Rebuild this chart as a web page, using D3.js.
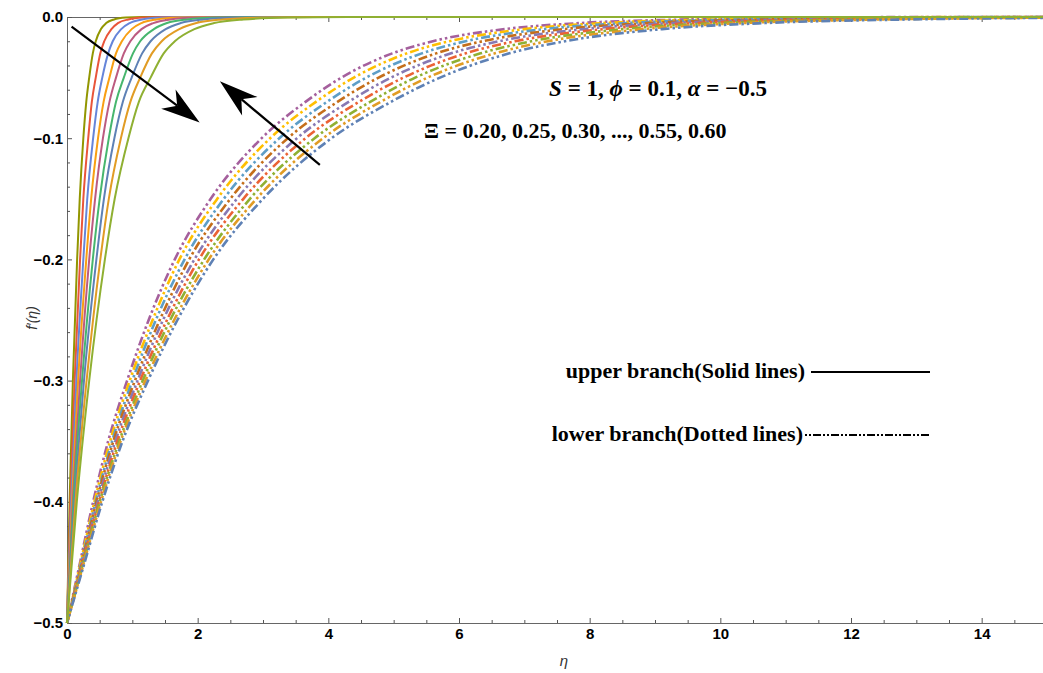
<!DOCTYPE html>
<html>
<head>
<meta charset="utf-8">
<script src="https://cdn.jsdelivr.net/npm/d3@7"></script>
<style>
body { margin: 0; background: #fff; }
svg { display: block; }
.note { font-family: "Liberation Serif", "Times New Roman", serif; font-weight: bold; font-size: 22px; fill: #000; }
</style>
</head>
<body>
<script>
// values

var xMajor = [0, 2, 4, 6, 8, 10, 12, 14];
var xMinor = [0.5, 1, 1.5, 2.5, 3, 3.5, 4.5, 5, 5.5, 6.5, 7, 7.5, 8.5, 9, 9.5, 10.5, 11, 11.5, 12.5, 13, 13.5, 14.5];
var yMajor = [0, -0.1, -0.2, -0.3, -0.4, -0.5];
var yMinor = [-0.02, -0.04, -0.06, -0.08, -0.12, -0.14, -0.16, -0.18, -0.22, -0.24, -0.26, -0.28,
              -0.32, -0.34, -0.36, -0.38, -0.42, -0.44, -0.46, -0.48];

// upper branch: eta where each curve crosses these f' levels
var solidLevels = [-0.5, -0.4, -0.3, -0.2, -0.15, -0.1, -0.07, -0.05, -0.03, -0.02, -0.01, -0.005, -0.002, -0.0005, 0];
var solidEta = [
  [0, 0.04, 0.09, 0.155, 0.195, 0.25, 0.295, 0.34, 0.395, 0.44, 0.52, 0.6, 0.72, 0.9, 1.15],
  [0, 0.052, 0.117, 0.2, 0.25, 0.325, 0.38, 0.44, 0.51, 0.57, 0.68, 0.78, 0.94, 1.17, 1.5],
  [0, 0.064, 0.144, 0.25, 0.31, 0.4, 0.47, 0.54, 0.63, 0.7, 0.83, 0.96, 1.15, 1.44, 1.84],
  [0, 0.076, 0.17, 0.295, 0.37, 0.475, 0.56, 0.65, 0.75, 0.84, 0.99, 1.14, 1.37, 1.71, 2.19],
  [0, 0.088, 0.2, 0.34, 0.43, 0.55, 0.65, 0.75, 0.87, 0.97, 1.14, 1.32, 1.58, 1.98, 2.53],
  [0, 0.1, 0.23, 0.395, 0.5, 0.64, 0.75, 0.87, 1.01, 1.12, 1.33, 1.53, 1.84, 2.3, 2.93],
  [0, 0.116, 0.26, 0.45, 0.565, 0.725, 0.855, 0.99, 1.15, 1.28, 1.51, 1.74, 2.09, 2.61, 3.34],
  [0, 0.13, 0.3, 0.51, 0.64, 0.825, 0.97, 1.12, 1.3, 1.45, 1.72, 1.98, 2.38, 2.97, 3.8],
  [0, 0.15, 0.34, 0.58, 0.73, 0.94, 1.1, 1.28, 1.48, 1.65, 1.95, 2.25, 2.7, 3.38, 4.3]
];
var solidColors = ["#929600", "#e9553a", "#6685d9", "#f89f13", "#bc5b80", "#47b66d", "#5e81b5", "#e19c24", "#8fb032"];

// lower branch
var dashLevels = [-0.5, -0.45, -0.4, -0.35, -0.3, -0.25, -0.2, -0.15, -0.1, -0.07, -0.05, -0.03, -0.02, -0.01, -0.005, -0.002, -0.0005, 0];
var dashEta = [
  [0, 0.2, 0.4, 0.63, 0.92, 1.25, 1.65, 2.2, 2.98, 3.65, 4.2, 4.98, 5.6, 6.7, 7.85, 9.5, 11.5, 13.5],
  [0, 0.21, 0.42, 0.66, 0.96, 1.31, 1.72, 2.3, 3.11, 3.81, 4.39, 5.2, 5.85, 7.0, 8.2, 9.93, 12.02, 14.11],
  [0, 0.22, 0.44, 0.69, 1.0, 1.36, 1.8, 2.4, 3.25, 3.98, 4.58, 5.43, 6.1, 7.3, 8.56, 10.36, 12.54, 14.72],
  [0, 0.23, 0.45, 0.71, 1.04, 1.42, 1.87, 2.5, 3.38, 4.14, 4.77, 5.65, 6.36, 7.6, 8.91, 10.78, 13.05, 15.32],
  [0, 0.24, 0.47, 0.74, 1.08, 1.47, 1.95, 2.6, 3.52, 4.31, 4.96, 5.88, 6.61, 7.91, 9.26, 11.21, 13.57, 15.93],
  [0, 0.24, 0.49, 0.77, 1.12, 1.53, 2.02, 2.7, 3.65, 4.47, 5.15, 6.1, 6.86, 8.21, 9.62, 11.64, 14.09, 16.54],
  [0, 0.25, 0.5, 0.8, 1.16, 1.58, 2.1, 2.8, 3.79, 4.64, 5.33, 6.33, 7.11, 8.51, 9.97, 12.07, 14.61, 17.15],
  [0, 0.26, 0.52, 0.82, 1.2, 1.64, 2.17, 2.9, 3.92, 4.8, 5.52, 6.55, 7.36, 8.81, 10.33, 12.5, 15.12, 17.75],
  [0, 0.27, 0.54, 0.85, 1.24, 1.69, 2.24, 3.0, 4.05, 4.96, 5.71, 6.77, 7.62, 9.11, 10.68, 12.92, 15.64, 18.36]
];
var dashColors = ["#a5609d", "#ffbf00", "#5d9ec7", "#c56e1a", "#8778b3", "#eb6235", "#8fb032", "#e19c24", "#5e81b5"];

// arrows, in data units [eta, f']
var arrows = [
  [[0.07, -0.008], [2.03, -0.087]],
  [[3.87, -0.122], [2.34, -0.053]]
];

var W = 1043, H = 673;

var x = d3.scaleLinear().domain([0, 15]).range([67, 1047]);
var y = d3.scaleLinear().domain([-0.5, 0]).range([623, 17]);

var svg = d3.select("body").append("svg")
  .attr("width", W)
  .attr("height", H);

svg.append("clipPath").attr("id", "plot")
  .append("rect")
  .attr("x", x(0) - 2).attr("y", y(0) - 3)
  .attr("width", W - x(0) + 2).attr("height", y(-0.5) - y(0) + 5);

var tickFont = '"Liberation Sans Narrow", "Arial Narrow", "Liberation Sans", Arial, sans-serif';
var fmt = function (d) { return d === 0 ? "0.0" : d3.format(".1f")(d); };

var styleAxis = function (g) {
  g.attr("font-family", tickFont).attr("font-size", 15).attr("font-weight", "bold");
  g.selectAll(".tick line").attr("stroke", "#555");
  g.selectAll(".tick text").attr("fill", "#000");
  g.select(".domain").attr("stroke", "#666");
};

// frame + ticks
svg.append("g").attr("transform", "translate(0," + y(-0.5) + ")")
  .call(d3.axisBottom(x).tickValues(xMajor).tickFormat(d3.format("d")).tickSizeInner(-5).tickSizeOuter(0).tickPadding(5))
  .call(styleAxis);
svg.append("g").attr("transform", "translate(0," + y(-0.5) + ")")
  .call(d3.axisBottom(x).tickValues(xMinor).tickFormat("").tickSizeInner(-3).tickSizeOuter(0))
  .call(styleAxis);
svg.append("g").attr("transform", "translate(0," + y(0) + ")")
  .call(d3.axisTop(x).tickValues(xMajor).tickFormat("").tickSizeInner(-5).tickSizeOuter(0))
  .call(styleAxis);
svg.append("g").attr("transform", "translate(0," + y(0) + ")")
  .call(d3.axisTop(x).tickValues(xMinor).tickFormat("").tickSizeInner(-3).tickSizeOuter(0))
  .call(styleAxis);
svg.append("g").attr("transform", "translate(" + x(0) + ",0)")
  .call(d3.axisLeft(y).tickValues(yMajor).tickFormat(fmt).tickSizeInner(-5).tickSizeOuter(0).tickPadding(4))
  .call(styleAxis);
svg.append("g").attr("transform", "translate(" + x(0) + ",0)")
  .call(d3.axisLeft(y).tickValues(yMinor).tickFormat("").tickSizeInner(-3).tickSizeOuter(0))
  .call(styleAxis);

var line = d3.line()
  .x(function (d) { return x(d[0]); })
  .y(function (d) { return y(d[1]); })
  .curve(d3.curveMonotoneX);

var toPoints = function (etas, levels) {
  var pts = etas.map(function (e, i) { return [e, levels[i]]; });
  if (etas[etas.length - 1] < 15) pts.push([15, 0]);
  return pts;
};

var curves = svg.append("g").attr("clip-path", "url(#plot)");

curves.selectAll("path.dash")
  .data(dashEta)
  .enter()
  .append("path")
  .attr("class", "dash")
  .attr("d", function (d) { return line(toPoints(d, dashLevels)); })
  .attr("fill", "none")
  .attr("stroke", function (d, i) { return dashColors[i]; })
  .attr("stroke-width", 2.6)
  .attr("stroke-dasharray", "2.5,3,2.5,3,9,3")
  .attr("stroke-dashoffset", function (d, i) { return i * 2; });

curves.selectAll("path.solid")
  .data(solidEta)
  .enter()
  .append("path")
  .attr("class", "solid")
  .attr("d", function (d) { return line(toPoints(d, solidLevels)); })
  .attr("fill", "none")
  .attr("stroke", function (d, i) { return solidColors[i]; })
  .attr("stroke-width", 2);

// axis titles
svg.append("text")
  .attr("transform", "translate(37," + 318 + ") rotate(-90)")
  .attr("text-anchor", "middle")
  .attr("font-family", "Liberation Sans, Arial, sans-serif")
  .attr("font-style", "italic")
  .attr("font-size", 14)
  .attr("fill", "#333")
  .text("f\u2032(\u03b7)");

svg.append("text")
  .attr("x", 564).attr("y", 666)
  .attr("text-anchor", "middle")
  .attr("font-family", "Liberation Sans, Arial, sans-serif")
  .attr("font-style", "italic")
  .attr("font-size", 15)
  .attr("fill", "#333")
  .text("\u03b7");

// arrows
var arrowG = svg.append("g");
arrows.forEach(function (a) {
  var x0 = x(a[0][0]), y0 = y(a[0][1]), x1 = x(a[1][0]), y1 = y(a[1][1]);
  var len = Math.sqrt((x1 - x0) * (x1 - x0) + (y1 - y0) * (y1 - y0));
  var ux = (x1 - x0) / len, uy = (y1 - y0) / len;
  var px = -uy, py = ux;
  var hl = 39, hw = 12, notch = 28;
  arrowG.append("line")
    .attr("x1", x0).attr("y1", y0)
    .attr("x2", x1 - ux * notch).attr("y2", y1 - uy * notch)
    .attr("stroke", "#000").attr("stroke-width", 2.2);
  var pts = [
    [x1, y1],
    [x1 - ux * hl + px * hw, y1 - uy * hl + py * hw],
    [x1 - ux * notch, y1 - uy * notch],
    [x1 - ux * hl - px * hw, y1 - uy * hl - py * hw]
  ];
  arrowG.append("polygon")
    .attr("points", pts.map(function (p) { return p.join(","); }).join(" "))
    .attr("fill", "#000");
});

// notes
var n1 = svg.append("text").attr("class", "note").attr("x", 658).attr("y", 96)
  .attr("text-anchor", "middle").style("font-size", "23px");
n1.append("tspan").attr("font-style", "italic").text("S");
n1.append("tspan").text(" = 1, ");
n1.append("tspan").attr("font-style", "italic").text("\u03d5");
n1.append("tspan").text(" = 0.1, ");
n1.append("tspan").attr("font-style", "italic").text("\u03b1");
n1.append("tspan").text(" = \u22120.5");

svg.append("text").attr("class", "note").attr("x", 424).attr("y", 138)
  .text("\u039e = 0.20, 0.25, 0.30, ..., 0.55, 0.60");

// legend
svg.append("text").attr("class", "note").attr("x", 805).attr("y", 378).attr("text-anchor", "end")
  .text("upper branch(Solid lines)");
svg.append("line").attr("x1", 811).attr("x2", 930).attr("y1", 372).attr("y2", 372)
  .attr("stroke", "#000").attr("stroke-width", 2);

svg.append("text").attr("class", "note").attr("x", 803).attr("y", 441).attr("text-anchor", "end")
  .text("lower branch(Dotted lines)");
svg.append("line").attr("x1", 805).attr("x2", 930).attr("y1", 435).attr("y2", 435)
  .attr("stroke", "#000").attr("stroke-width", 2)
  .attr("stroke-dasharray", "2,2,2,2,8,2");
</script>
</body>
</html>
